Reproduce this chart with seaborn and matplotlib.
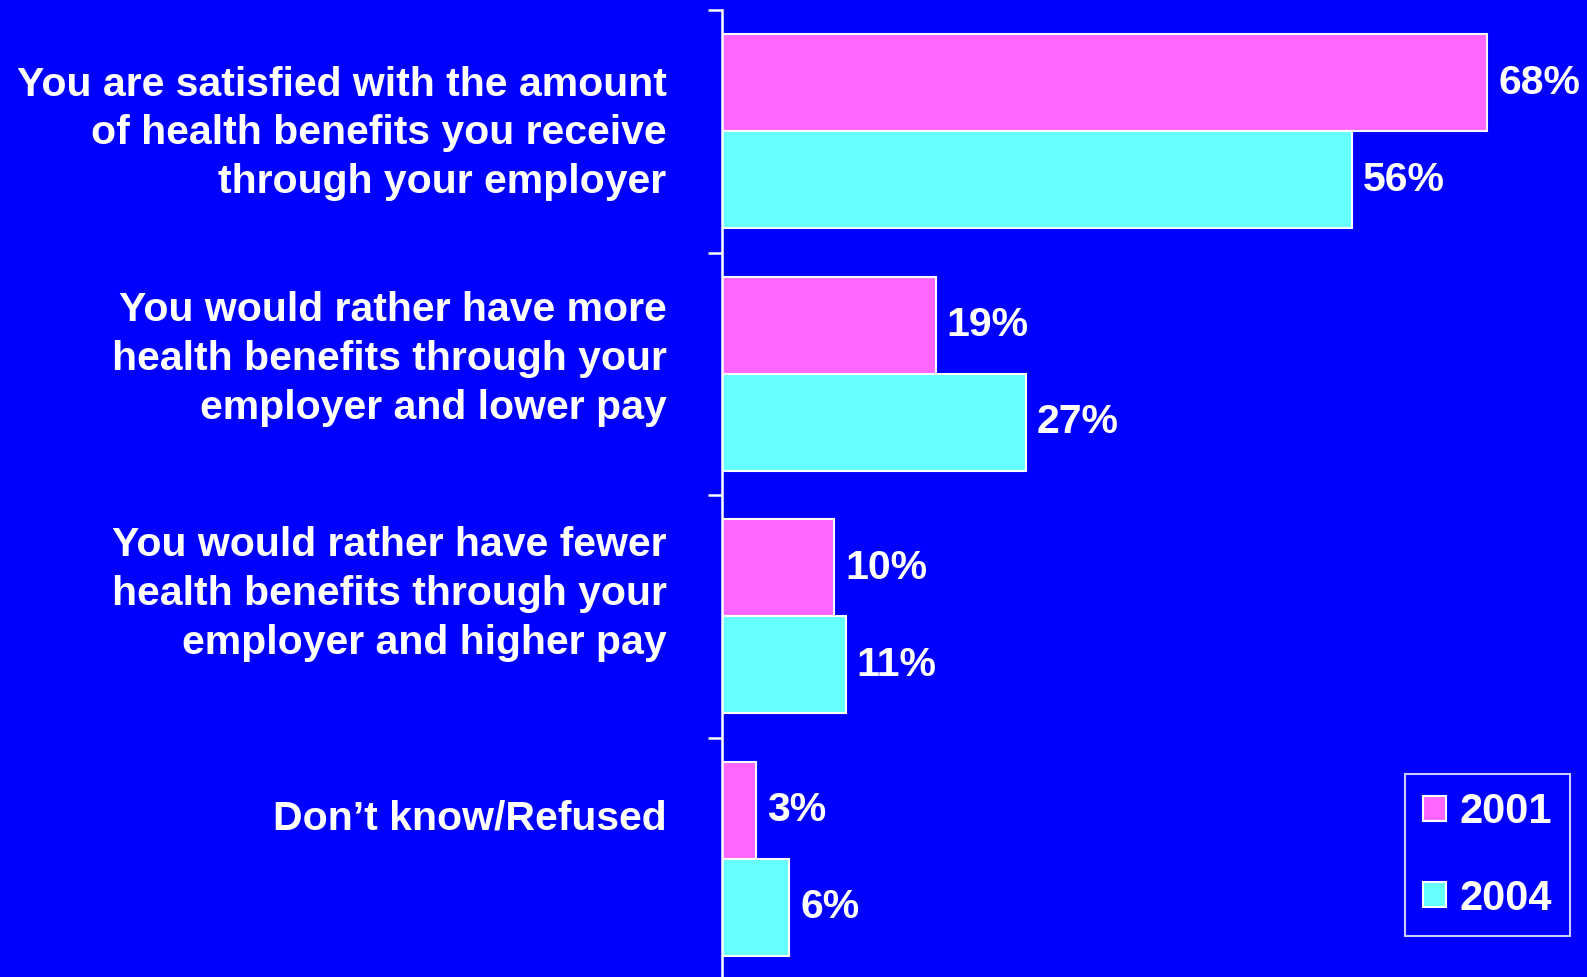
import matplotlib
matplotlib.use("Agg")
import matplotlib.pyplot as plt
import matplotlib.patches as mpatches
import seaborn as sns
import pandas as pd

categories = [
    "You are satisfied with the amount\nof health benefits you receive\nthrough your employer",
    "You would rather have more\nhealth benefits through your\nemployer and lower pay",
    "You would rather have fewer\nhealth benefits through your\nemployer and higher pay",
    "Don\u2019t know/Refused",
]
years = ["2001", "2004"]
values_2001 = [68, 19, 10, 3]
values_2004 = [56, 27, 11, 6]

BG = "#0000FF"
PINK = "#FF66FF"
CYAN = "#66FFFF"
FONT = ["Liberation Sans", "DejaVu Sans"]
FS = 29.5

df = pd.DataFrame({
    "category": categories * 2,
    "year": [years[0]] * 4 + [years[1]] * 4,
    "value": values_2001 + values_2004,
})

sns.set_theme(style="white")
plt.rcParams["font.family"] = FONT
plt.rcParams["font.weight"] = "bold"

fig = plt.figure(figsize=(15.87, 9.77), dpi=100, facecolor=BG)
ax = fig.add_axes([722 / 1587, -3 / 977, 1 - 722 / 1587, 970 / 977])
ax.set_facecolor(BG)

sns.barplot(data=df, y="category", x="value", hue="year", order=categories,
            hue_order=years, palette=[PINK, CYAN], orient="h",
            edgecolor="white", linewidth=1.5, width=0.8, saturation=1,
            legend=False, ax=ax)

ax.set_xlim(0, 76.9)
ax.set_ylim(3.5, -0.5)
ax.set_xlabel("")
ax.set_ylabel("")
ax.set_xticks([])

for s in ["top", "right", "bottom"]:
    ax.spines[s].set_visible(False)
ax.spines["left"].set_color("white")
ax.spines["left"].set_linewidth(1.8)

# category labels on major ticks, boundary ticks as minor ticks
label_pos = [-0.03, 0.90, 1.87, 2.817]
ax.set_yticks(label_pos)
ax.set_yticklabels(categories, fontsize=FS, fontweight="bold", color="white",
                   multialignment="right", linespacing=1.36)
ax.tick_params(axis="y", which="major", left=True, length=0, pad=40)
ax.set_yticks([-0.5, 0.5, 1.5, 2.5], minor=True)
ax.tick_params(axis="y", which="minor", left=True, length=10, width=1.8,
               color="white", direction="out")

# value labels
for container in ax.containers:
    ax.bar_label(container, labels=[f"{v:.0f}%" for v in container.datavalues],
                 padding=8, color="white", fontsize=FS, fontweight="bold")

handles = [mpatches.Patch(facecolor=PINK, edgecolor="white", linewidth=1.5),
           mpatches.Patch(facecolor=CYAN, edgecolor="white", linewidth=1.5)]
leg = ax.legend(handles, years, loc="lower right",
                bbox_to_anchor=(1570 / 1587, (977 - 936) / 977),
                bbox_transform=fig.transFigure,
                frameon=True, fancybox=False, facecolor=BG, edgecolor="white",
                prop={"family": FONT, "weight": "bold", "size": 30},
                labelcolor="white", handlelength=0.55, handleheight=0.55,
                handletextpad=0.34, labelspacing=1.12, borderpad=0.42,
                borderaxespad=0)
leg.get_frame().set_linewidth(1.5)

fig.savefig("out.png", dpi=100, facecolor=BG)
